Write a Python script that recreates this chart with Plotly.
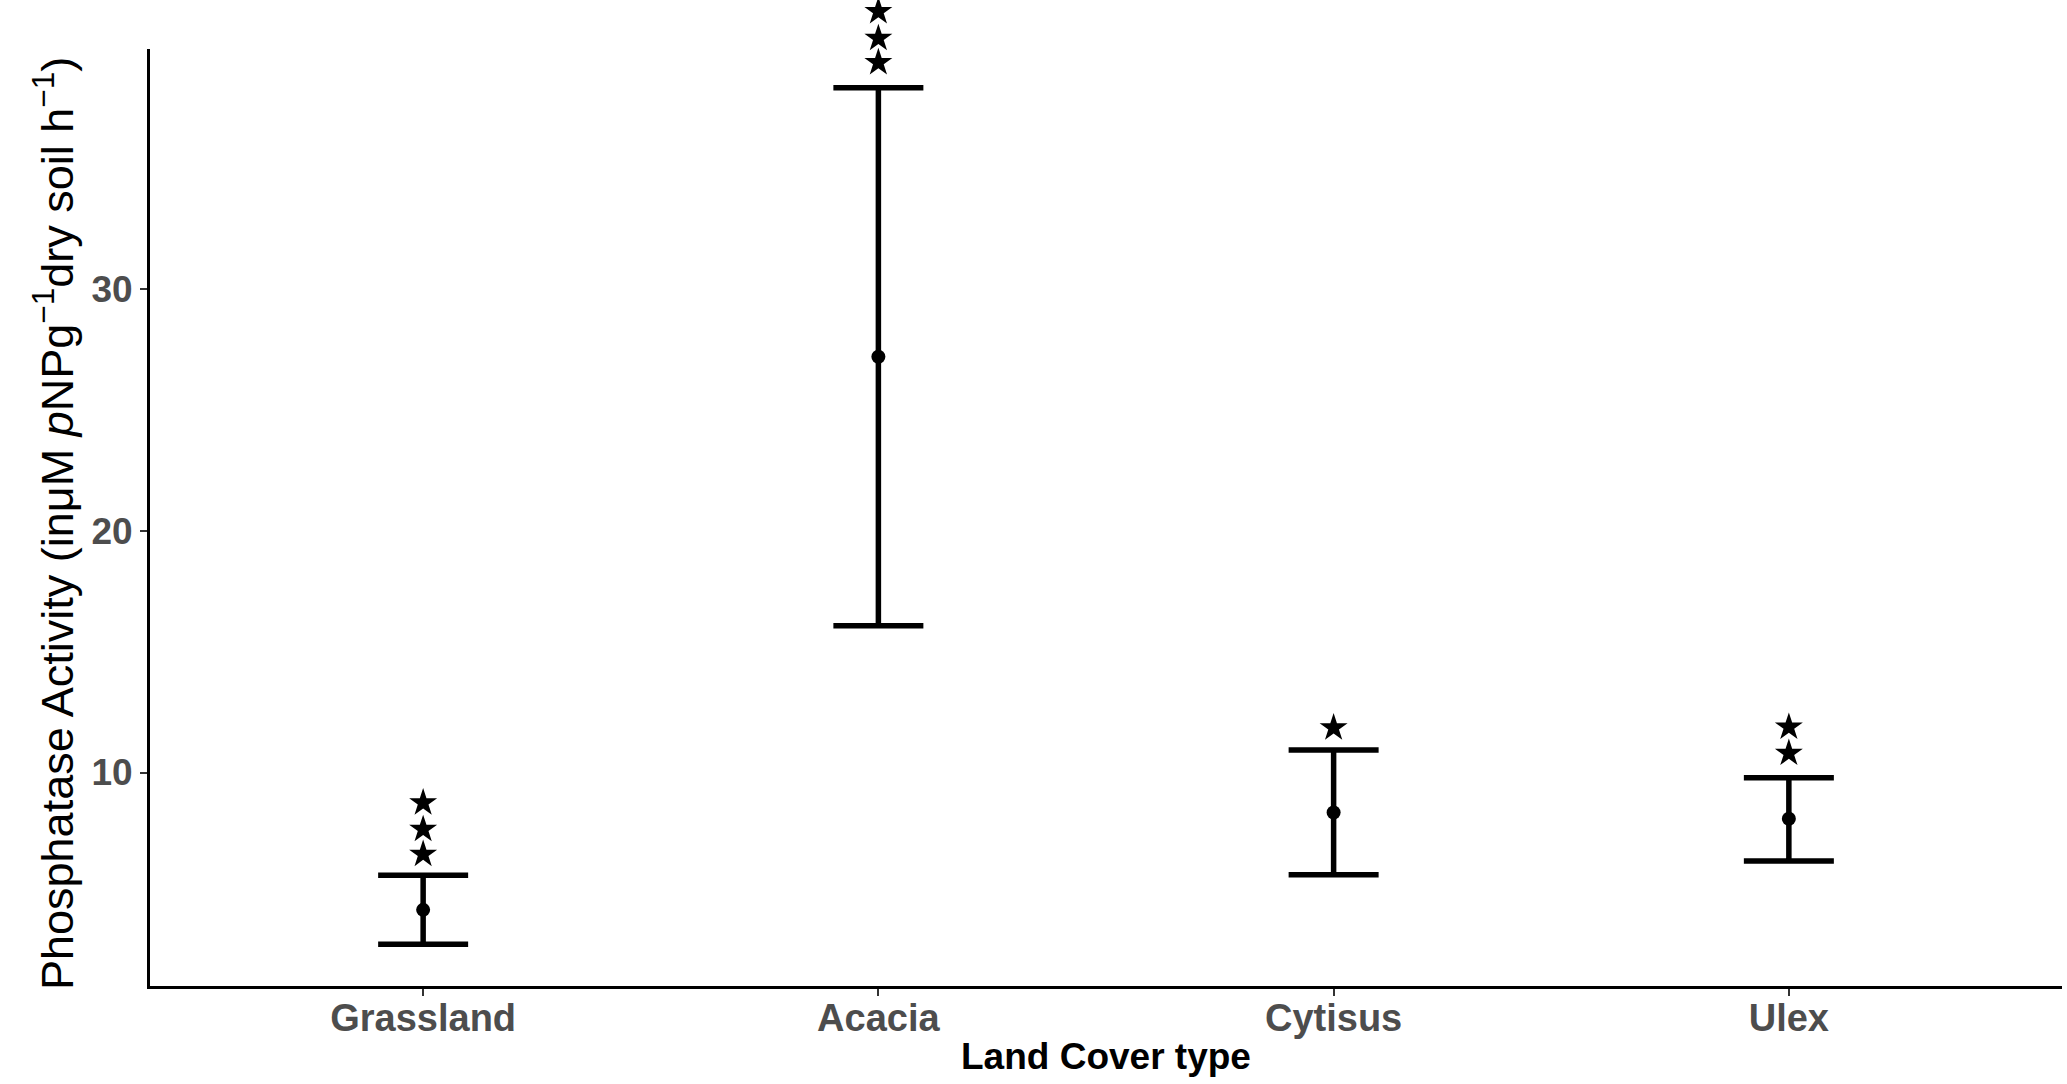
import plotly.graph_objects as go

categories = ["Grassland", "Acacia", "Cytisus", "Ulex"]
means = [4.32, 27.2, 8.35, 8.09]
lower = [2.9, 16.07, 5.77, 6.34]
upper = [5.75, 38.33, 10.93, 9.78]
star_y = [[6.62, 7.65, 8.75], [39.37, 40.37, 41.48], [11.85], [10.8, 11.88]]
y_ticks = [10, 20, 30]

W, H = 2067, 1084
ML, MR, MB = 150, 5, 98
PANEL_TOP = 49            # px from top where the axis panel starts
Y_LO, Y_HI = 1.17, 39.93

area_h = H - MB                      # plotting area spans from 0 to bottom
dom_top = (area_h - PANEL_TOP) / area_h
y2_hi = Y_LO + (Y_HI - Y_LO) / dom_top

FONT = "Liberation Sans, Arial, Helvetica, sans-serif"

fig = go.Figure()

fig.add_trace(go.Scatter(
    x=categories, y=means, mode="markers",
    marker=dict(color="black", size=14),
    error_y=dict(type="data", symmetric=False,
                 array=[u - m for u, m in zip(upper, means)],
                 arrayminus=[m - l for m, l in zip(means, lower)],
                 color="black", thickness=5.5, width=45),
    showlegend=False, hoverinfo="skip"))

sx, sy = [], []
for c, ys in zip(categories, star_y):
    for v in ys:
        sx.append(c)
        sy.append(v)
fig.add_trace(go.Scatter(
    x=sx, y=sy, mode="markers", yaxis="y2",
    marker=dict(symbol="star", color="black", size=21, line=dict(width=0)),
    cliponaxis=False, showlegend=False, hoverinfo="skip"))

fig.update_layout(
    width=W, height=H,
    margin=dict(l=ML, r=MR, t=0, b=MB),
    paper_bgcolor="white", plot_bgcolor="rgba(0,0,0,0)",
    font=dict(family=FONT, color="black"),
    xaxis=dict(
        type="category", categoryorder="array", categoryarray=categories,
        range=[-0.6, 3.6],
        showline=True, linecolor="black", linewidth=3,
        ticks="outside", ticklen=7, tickwidth=2.4, tickcolor="#333333",
        showgrid=False, zeroline=False,
        ticklabelstandoff=-11,
        tickfont=dict(size=38, color="#4D4D4D", family=FONT, weight="bold"),
    ),
    yaxis=dict(
        domain=[0, dom_top],
        range=[Y_LO, Y_HI],
        tickvals=y_ticks, ticktext=[str(t) for t in y_ticks],
        showline=True, linecolor="black", linewidth=3,
        ticks="outside", ticklen=7, tickwidth=2.4, tickcolor="#333333",
        showgrid=False, zeroline=False,
        ticklabelstandoff=0,
        tickfont=dict(size=37, color="#4D4D4D", family=FONT, weight="bold"),
    ),
    yaxis2=dict(
        domain=[0, 1], range=[Y_LO, y2_hi], anchor="x",
        visible=False, showgrid=False, zeroline=False,
    ),
    annotations=[
        dict(text="Land Cover type", xref="paper", yref="paper",
             x=0.5, y=(area_h - 1056) / area_h, xanchor="center", yanchor="middle",
             showarrow=False,
             font=dict(size=37, color="black", family=FONT, weight="bold")),
        dict(text="Phosphatase Activity (inμM <i>p</i>NPg<sup>−1</sup>dry soil h<sup>−1</sup>)",
             xref="paper", yref="paper",
             x=-(ML - 54) / (W - ML - MR), y=(area_h - 524) / area_h,
             xanchor="center", yanchor="middle", textangle=-90,
             showarrow=False,
             font=dict(size=45, color="black", family=FONT)),
    ],
)

fig.write_html("out.html", config={"displayModeBar": False},
               post_script="document.body.style.margin='0px';document.body.style.overflow='hidden';")
